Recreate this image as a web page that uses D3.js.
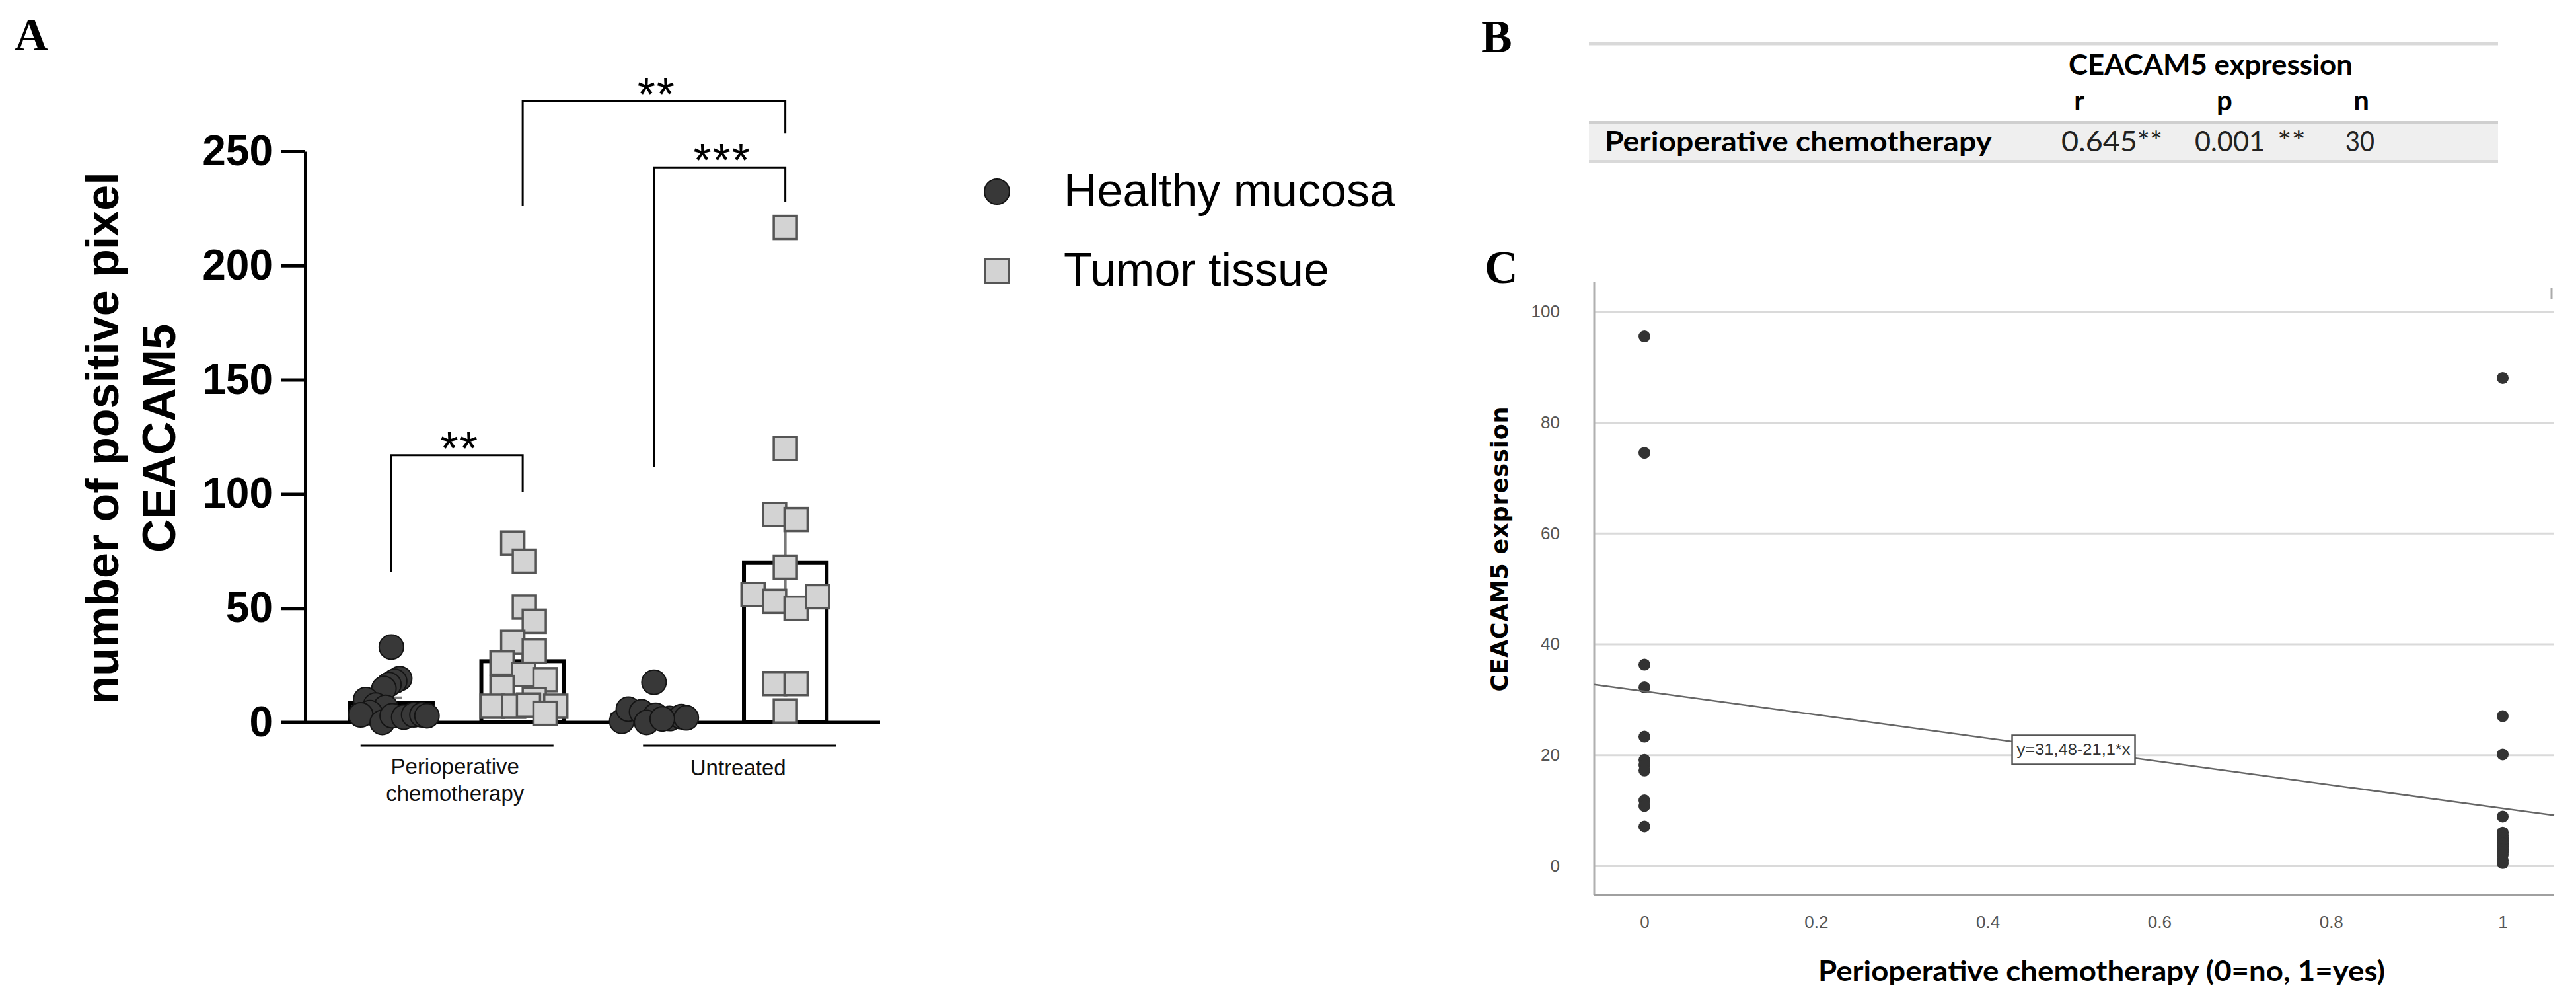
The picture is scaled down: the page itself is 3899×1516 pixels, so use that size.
<!DOCTYPE html>
<html><head><meta charset="utf-8">
<script src="https://cdn.jsdelivr.net/npm/d3@7/dist/d3.min.js"></script>
<style>body{margin:0;background:#fff;} svg{display:block;background:#fff;}</style>
</head><body>
<svg id="fig" width="3899" height="1516"></svg>
<script>
// ================= DATA =================
// Panel A
const aGroups = ["Perioperative chemotherapy", "Untreated"];
const aTissues = ["Healthy mucosa", "Tumor tissue"];
const aSubgroups = ["chemo-healthy", "chemo-tumor", "untreated-healthy", "untreated-tumor"];
const aYTicks = [0, 50, 100, 150, 200, 250];
const chemoHealthy = [33, 19.2, 18, 16.6, 14.8, 10, 7.6, 6.6, 4.3, 3.3, 0, 2.9, 2.3, 3.3, 3.3, 2.9];
const chemoHealthyJitter = [0, 0.10, 0.04, -0.03, -0.09, -0.31, -0.19, -0.07, -0.26, -0.37, -0.11, 0.01, 0.15, 0.27, 0.37, 0.43];
const chemoTumor = [78.5, 70.6, 50.5, 44.3, 35.1, 31.2, 26, 21, 18.7, 15.3, 10, 7.1, 7.1, 7.6, 7.1, 4];
const chemoTumorJitter = [-0.12, 0.02, 0.02, 0.14, -0.12, 0.14, -0.25, 0.01, 0.27, -0.25, 0.14, -0.37, -0.11, 0.07, 0.40, 0.27];
const untreatedHealthy = [17.6, 0.5, 5.8, 4.6, 3.1, 0, 1.7, 2.5, 2, 1.5];
const untreatedHealthyJitter = [0, -0.39, -0.31, -0.15, 0.02, -0.09, 0.19, 0.33, 0.39, 0.10];
const untreatedTumor = [216.7, 120, 91, 88.8, 68, 56, 53, 50, 55, 17, 17, 5];
const untreatedTumorJitter = [0, 0, -0.13, 0.13, 0, -0.39, -0.13, 0.13, 0.39, -0.13, 0.13, 0];
const aBarMeans = [8.5, 26.8, 3.5, 69.8];
const aBarSEM = [2.3, 5.5, 1.6, 16.5];
// significance brackets (subgroup indices, values in data units)
const bracketFrom = [0, 2, 1];
const bracketTo = [1, 3, 3];
const bracketTop = [117, 243, 272];
const bracketLeftEnd = [66, 112, 226];
const bracketRightEnd = [101, 228, 258];
const bracketLabels = ["**", "***", "**"];

// Panel B
const tableTitle = "CEACAM5 expression";
const tableHeaders = ["r", "p", "n"];
const tableRowLabel = "Perioperative chemotherapy";
const tableR = "0.645**";
const tableP = "0.001";
const tablePStars = "**";
const tableN = "30";

// Panel C
const cYTicks = [0, 20, 40, 60, 80, 100];
const cXTicks = [0, 0.2, 0.4, 0.6, 0.8, 1];
const cXTickLabels = ["0", "0.2", "0.4", "0.6", "0.8", "1"];
const cNoChemo = [95.5, 74.5, 36.3, 32.2, 23.3, 19.1, 18.2, 17.2, 11.8, 10.8, 7.1];
const cChemo = [88, 27, 20.1, 8.9, 6, 5.5, 5, 4.5, 4.5, 4, 4, 3.5, 3.5, 3, 3, 2.5, 2, 1, 0.5];
const cIntercept = 31.48;
const cSlope = -21.1;
const cFitLabel = "y=31,48-21,1*x";
const cXTitle = "Perioperative chemotherapy (0=no, 1=yes)";
const cYTitle = "CEACAM5 expression";

// ================= DRAW =================
const svg = d3.select("#fig");
const SANS = "'Liberation Sans', Arial, sans-serif";
const SERIF = "'Liberation Serif', 'Times New Roman', serif";
const LATO = "Lato, 'Liberation Sans', sans-serif";

function panelLabel(x, y, t) {
  svg.append("text").attr("x", x).attr("y", y).text(t)
    .attr("font-family", SERIF).attr("font-weight", "bold").attr("font-size", 70);
}
panelLabel(22, 76, "A");
panelLabel(2242, 79, "B");
panelLabel(2247, 428, "C");

// ---------- Panel A ----------
const gA = svg.append("g");
const yA = d3.scaleLinear().domain([0, 250]).range([1093, 229]);
const xA = d3.scaleBand().domain(aSubgroups).range([493, 1288]).paddingInner(0.37).paddingOuter(0.185);
const bw = xA.bandwidth();
const cx = i => xA(aSubgroups[i]) + bw / 2;

// y axis
const yAxisA = d3.axisLeft(yA).tickValues(aYTicks).tickSize(36).tickPadding(13).tickSizeOuter(0);
const yAx = gA.append("g").attr("transform", "translate(462,0)").call(yAxisA);
yAx.select(".domain").attr("stroke", "#000").attr("stroke-width", 5);
yAx.selectAll(".tick line").attr("stroke", "#000").attr("stroke-width", 5);
yAx.selectAll(".tick text").attr("font-family", SANS).attr("font-weight", "bold")
  .attr("font-size", 64).attr("fill", "#000");

// baseline
gA.append("line").attr("x1", 426).attr("x2", 1332).attr("y1", yA(0)).attr("y2", yA(0))
  .attr("stroke", "#000").attr("stroke-width", 5);

// y title
const yt = gA.append("text").attr("transform", `translate(179,663) rotate(-90)`)
  .attr("text-anchor", "middle").attr("font-family", SANS).attr("font-weight", "bold").attr("font-size", 70);
yt.append("tspan").attr("x", 0).attr("y", 0).text("number of positive pixel");
yt.append("tspan").attr("x", 0).attr("y", 86).text("CEACAM5");

// bars
gA.selectAll("rect.bar").data(aBarMeans).enter().append("rect").attr("class", "bar")
  .attr("x", (d, i) => cx(i) - bw / 2).attr("width", bw)
  .attr("y", d => yA(d)).attr("height", d => yA(0) - yA(d))
  .attr("fill", "#fff").attr("stroke", "#000").attr("stroke-width", 6);

// error bars
aBarMeans.forEach((m, i) => {
  const s = aBarSEM[i];
  const g = gA.append("g").attr("stroke", "#7a7a7a").attr("stroke-width", 4);
  g.append("line").attr("x1", cx(i)).attr("x2", cx(i)).attr("y1", yA(m - s)).attr("y2", yA(m + s));
  g.append("line").attr("x1", cx(i) - 16).attr("x2", cx(i) + 16).attr("y1", yA(m + s)).attr("y2", yA(m + s));
});

// points
const aSeries = [
  {vals: chemoHealthy, jit: chemoHealthyJitter, sub: 0, shape: "circle"},
  {vals: chemoTumor, jit: chemoTumorJitter, sub: 1, shape: "square"},
  {vals: untreatedHealthy, jit: untreatedHealthyJitter, sub: 2, shape: "circle"},
  {vals: untreatedTumor, jit: untreatedTumorJitter, sub: 3, shape: "square"}
];
aSeries.forEach(s => {
  const pts = s.vals.map((v, k) => ({x: cx(s.sub) + s.jit[k] * bw, y: yA(v)}));
  if (s.shape === "circle") {
    gA.selectAll(null).data(pts).enter().append("circle")
      .attr("cx", d => d.x).attr("cy", d => d.y).attr("r", 18.5)
      .attr("fill", "#383838").attr("stroke", "#141414").attr("stroke-width", 2);
  } else {
    gA.selectAll(null).data(pts).enter().append("rect")
      .attr("x", d => d.x - 17.5).attr("y", d => d.y - 17.5).attr("width", 35).attr("height", 35)
      .attr("fill", "#d3d3d3").attr("stroke", "#555").attr("stroke-width", 3.5);
  }
});

// brackets
bracketLabels.forEach((lab, i) => {
  const x1 = cx(bracketFrom[i]), x2 = cx(bracketTo[i]);
  gA.append("path")
    .attr("d", `M${x1},${yA(bracketLeftEnd[i])}V${yA(bracketTop[i])}H${x2}V${yA(bracketRightEnd[i])}`)
    .attr("fill", "none").attr("stroke", "#000").attr("stroke-width", 3);
  gA.append("text").attr("x", (x1 + x2) / 2 + 4).attr("y", yA(bracketTop[i]) + 14)
    .attr("text-anchor", "middle").attr("font-family", SANS).attr("font-size", 70)
    .attr("letter-spacing", 2).text(lab);
});

// category labels with underline
const catShift = [0, 30];
aGroups.forEach((gname, gi) => {
  const mid = (cx(gi * 2) + cx(gi * 2 + 1)) / 2 + catShift[gi];
  gA.append("line").attr("x1", mid - 146).attr("x2", mid + 146).attr("y1", 1128).attr("y2", 1128)
    .attr("stroke", "#000").attr("stroke-width", 3);
  const t = gA.append("text").attr("text-anchor", "middle").attr("font-family", SANS)
    .attr("font-size", 33).attr("fill", "#111");
  if (gi === 0) {
    t.append("tspan").attr("x", mid - 3).attr("y", 1171).text("Perioperative");
    t.append("tspan").attr("x", mid - 3).attr("y", 1212).text("chemotherapy");
  } else {
    t.append("tspan").attr("x", mid - 2).attr("y", 1173).text(gname);
  }
});

// legend
const lg = svg.append("g");
lg.append("circle").attr("cx", 1509).attr("cy", 290).attr("r", 19).attr("fill", "#383838").attr("stroke", "#141414").attr("stroke-width", 2);
lg.append("rect").attr("x", 1491).attr("y", 392).attr("width", 36).attr("height", 36)
  .attr("fill", "#d3d3d3").attr("stroke", "#555").attr("stroke-width", 3.5);
lg.selectAll("text").data(aTissues).enter().append("text")
  .attr("x", 1610).attr("y", (d, i) => 312 + i * 120).text(d => d)
  .attr("font-family", SANS).attr("font-size", 70).attr("fill", "#000");

// ---------- Panel B ----------
const gB = svg.append("g");
gB.append("line").attr("x1", 2405).attr("x2", 3781).attr("y1", 66).attr("y2", 66).attr("stroke", "#d9d9d9").attr("stroke-width", 5);
gB.append("text").attr("x", 3131).attr("y", 113).text(tableTitle)
  .attr("font-family", LATO).attr("font-weight", "bold").attr("font-size", 42)
  .attr("textLength", 430).attr("lengthAdjust", "spacingAndGlyphs");
const hdrX = [3147, 3367, 3574];
gB.selectAll("text.hdr").data(tableHeaders).enter().append("text").attr("class", "hdr")
  .attr("x", (d, i) => hdrX[i]).attr("y", 167).attr("text-anchor", "middle").text(d => d)
  .attr("font-family", LATO).attr("font-weight", "bold").attr("font-size", 42);
gB.append("rect").attr("x", 2405).attr("y", 185).attr("width", 1376).attr("height", 59).attr("fill", "#efefef");
gB.append("line").attr("x1", 2405).attr("x2", 3781).attr("y1", 185).attr("y2", 185).attr("stroke", "#cfcfcf").attr("stroke-width", 4);
gB.append("line").attr("x1", 2405).attr("x2", 3781).attr("y1", 244).attr("y2", 244).attr("stroke", "#d9d9d9").attr("stroke-width", 4);
gB.append("text").attr("x", 2429).attr("y", 229).text(tableRowLabel)
  .attr("font-family", LATO).attr("font-weight", "bold").attr("font-size", 42)
  .attr("textLength", 586).attr("lengthAdjust", "spacingAndGlyphs");
const cellTxt = [tableR, tableP, tablePStars, tableN];
const cellX = [3120, 3322, 3447, 3550];
const cellW = [153, 106, 43, 44];
gB.selectAll("text.cell").data(cellTxt).enter().append("text").attr("class", "cell")
  .attr("x", (d, i) => cellX[i]).attr("y", 229).text(d => d)
  .attr("font-family", LATO).attr("font-size", 42).attr("fill", "#222")
  .attr("textLength", (d, i) => cellW[i]).attr("lengthAdjust", "spacingAndGlyphs");

// ---------- Panel C ----------
const gC = svg.append("g");
const xC = d3.scaleLinear().domain([-0.0585, 1.06]).range([2413, 3866]);
const yC = d3.scaleLinear().domain([-5.24, 105.4]).range([1354, 426]);

// grid
const grid = gC.append("g").attr("transform", "translate(2413,0)")
  .call(d3.axisLeft(yC).tickValues(cYTicks).tickSize(-(3866 - 2413)).tickFormat(""));
grid.select(".domain").remove();
grid.selectAll(".tick line").attr("stroke", "#dadada").attr("stroke-width", 3);

// y tick labels
const yl = gC.append("g").attr("transform", "translate(2413,0)")
  .call(d3.axisLeft(yC).tickValues(cYTicks).tickSize(0).tickPadding(52));
yl.select(".domain").remove();
yl.selectAll(".tick text").attr("font-family", SANS).attr("font-size", 26).attr("fill", "#555");

// x tick labels
const xl = gC.append("g").attr("transform", "translate(0,1354)")
  .call(d3.axisBottom(xC).tickValues(cXTicks).tickSize(0).tickPadding(32).tickFormat((d, i) => cXTickLabels[i]));
xl.select(".domain").remove();
xl.selectAll(".tick text").attr("font-family", SANS).attr("font-size", 26).attr("fill", "#555");

// frame
gC.append("line").attr("x1", 2413).attr("x2", 2413).attr("y1", 426).attr("y2", 1354).attr("stroke", "#b0b0b0").attr("stroke-width", 3);
gC.append("line").attr("x1", 2413).attr("x2", 3866).attr("y1", 1354).attr("y2", 1354).attr("stroke", "#a0a0a0").attr("stroke-width", 3);
gC.append("line").attr("x1", 3862).attr("x2", 3862).attr("y1", 436).attr("y2", 452).attr("stroke", "#aaa").attr("stroke-width", 3);

// points
const cPts = cNoChemo.map(v => [0, v]).concat(cChemo.map(v => [1, v]));
gC.selectAll("circle").data(cPts).enter().append("circle")
  .attr("cx", d => xC(d[0])).attr("cy", d => yC(d[1])).attr("r", 9)
  .attr("fill", "#333");

// regression line
const dom = xC.domain();
gC.append("line").attr("x1", xC(dom[0])).attr("y1", yC(cIntercept + cSlope * dom[0]))
  .attr("x2", xC(dom[1])).attr("y2", yC(cIntercept + cSlope * dom[1]))
  .attr("stroke", "#666").attr("stroke-width", 2.5);

// fit label
const lx = xC(0.5), ly = yC(cIntercept + cSlope * 0.5);
gC.append("rect").attr("x", lx - 93).attr("y", ly - 22).attr("width", 186).attr("height", 44)
  .attr("fill", "#fff").attr("stroke", "#555").attr("stroke-width", 2.5);
gC.append("text").attr("x", lx - 86).attr("y", ly + 8).text(cFitLabel)
  .attr("font-family", SANS).attr("font-size", 23).attr("fill", "#333")
  .attr("textLength", 172).attr("lengthAdjust", "spacingAndGlyphs");

// axis titles
gC.append("text").attr("transform", "translate(2282,831) rotate(-90)").attr("text-anchor", "middle")
  .text(cYTitle).attr("font-family", "'DejaVu Sans', sans-serif").attr("font-weight", "bold")
  .attr("font-size", 35).attr("textLength", 431).attr("lengthAdjust", "spacing");
gC.append("text").attr("x", 2752).attr("y", 1484).text(cXTitle)
  .attr("font-family", LATO).attr("font-weight", "bold").attr("font-size", 42)
  .attr("textLength", 858).attr("lengthAdjust", "spacingAndGlyphs");
</script>
</body></html>
